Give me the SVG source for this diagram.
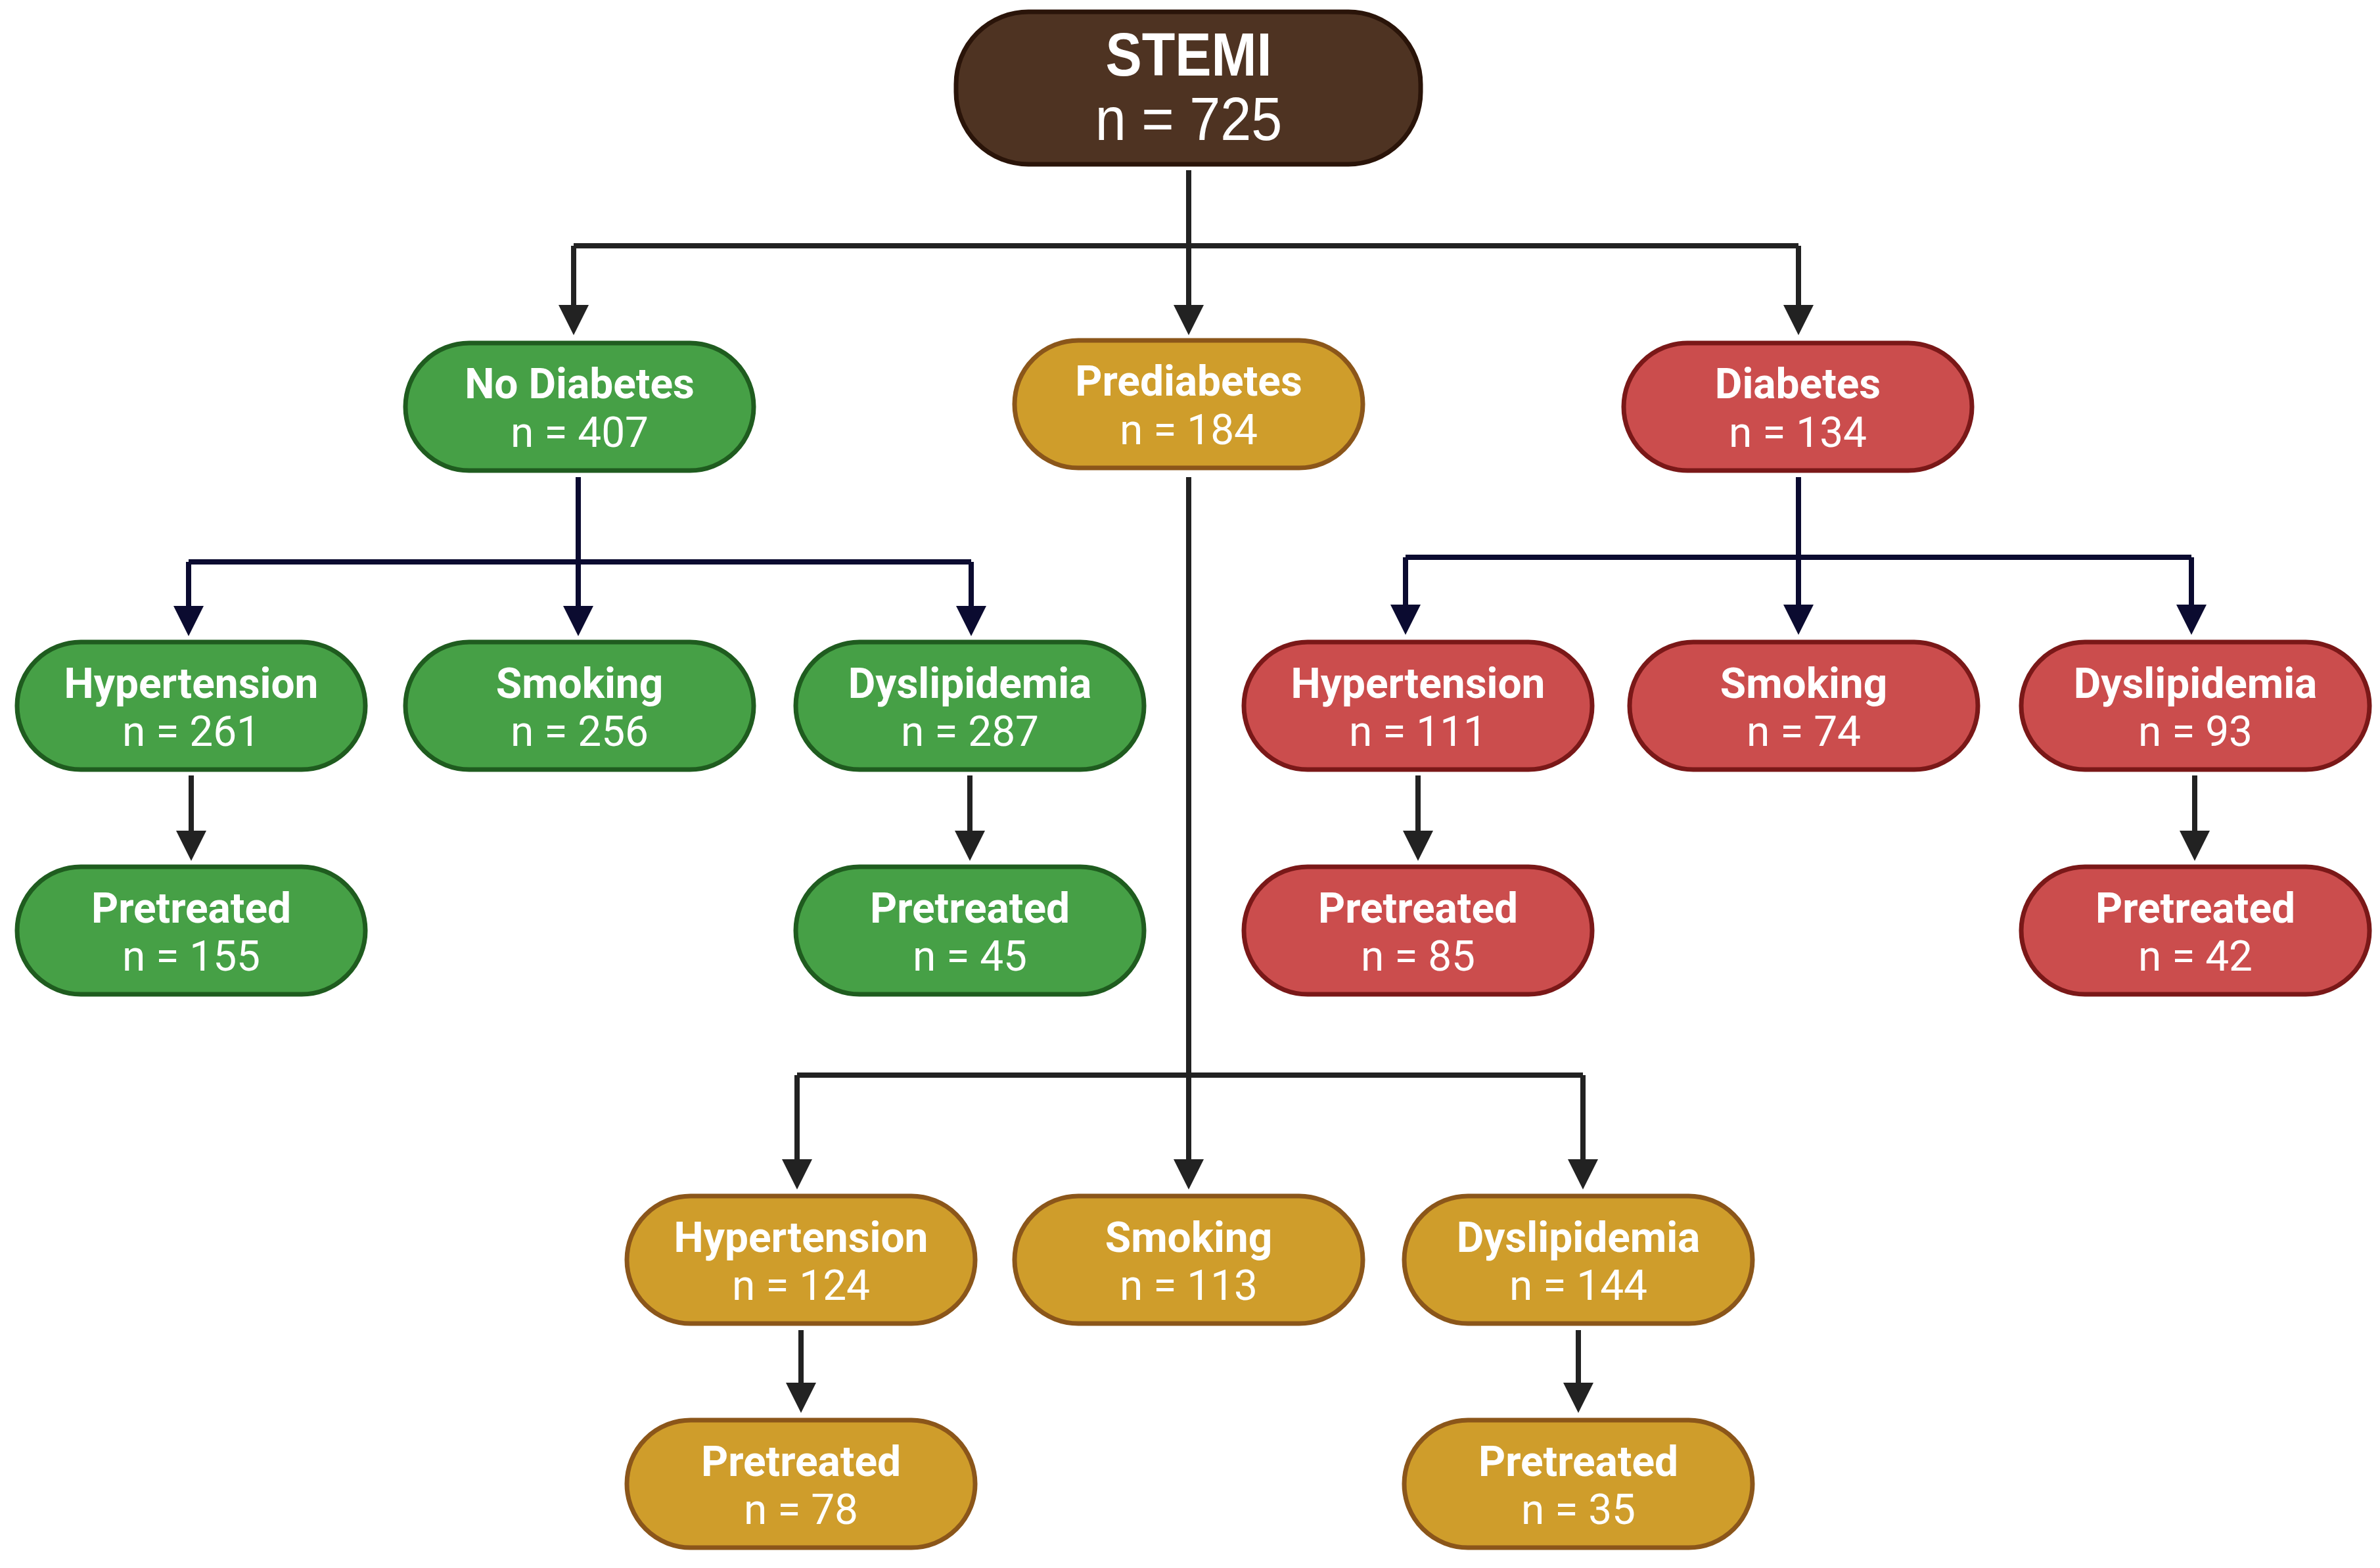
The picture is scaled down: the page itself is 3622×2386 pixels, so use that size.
<svg xmlns="http://www.w3.org/2000/svg" width="3622" height="2386" viewBox="0 0 3622 2386">
<style>
  .node rect { stroke-width: 7; }
  .g rect { fill: #46a046; stroke: #1f5c1f; }
  .y rect { fill: #cf9d2b; stroke: #8b561a; }
  .r rect { fill: #cb4d4d; stroke: #7a1818; }
  .s rect { fill: #4e3322; stroke: #2a1409; }
  .t1 { font-family: Roboto, "Liberation Sans", sans-serif; font-weight: 700; font-size: 64px; fill: #fff; text-anchor: middle; }
  .t2 { font-family: Roboto, "Liberation Sans", sans-serif; font-weight: 400; font-size: 64px; fill: #fff; text-anchor: middle; }
  .st1 { font-family: "Liberation Sans", Arial, sans-serif; font-weight: 700; font-size: 92px; fill: #fff; text-anchor: middle; }
  .st2 { font-family: "Liberation Sans", Arial, sans-serif; font-weight: 400; font-size: 92px; fill: #fff; text-anchor: middle; }
  .c { fill: none; stroke-width: 8; stroke-linecap: butt; stroke-linejoin: miter; }
  .gray { stroke: #222222; }
  .navy { stroke: #0b0b30; }
</style>
<defs>
  <marker id="ag" viewBox="0 0 46 46" refX="2" refY="23" markerWidth="46" markerHeight="46" markerUnits="userSpaceOnUse" orient="auto">
    <path d="M0,0 L46,23 L0,46 Z" fill="#222222"/>
  </marker>
  <marker id="an" viewBox="0 0 46 46" refX="2" refY="23" markerWidth="46" markerHeight="46" markerUnits="userSpaceOnUse" orient="auto">
    <path d="M0,0 L46,23 L0,46 Z" fill="#0b0b30"/>
  </marker>
</defs>
<rect width="3622" height="2386" fill="#ffffff"/>

<g id="connectors">
  <!-- STEMI split -->
  <path class="c gray" d="M1809,259 V374"/>
  <path class="c gray" d="M873,374 H2737"/>
  <path class="c gray" d="M873,374 V466" marker-end="url(#ag)"/>
  <path class="c gray" d="M1809,374 V466" marker-end="url(#ag)"/>
  <path class="c gray" d="M2737,374 V466" marker-end="url(#ag)"/>
  <!-- No Diabetes split -->
  <path class="c navy" d="M880,726 V855"/>
  <path class="c navy" d="M287,855 H1478"/>
  <path class="c navy" d="M287,855 V924" marker-end="url(#an)"/>
  <path class="c navy" d="M880,855 V924" marker-end="url(#an)"/>
  <path class="c navy" d="M1478,855 V924" marker-end="url(#an)"/>
  <!-- Diabetes split -->
  <path class="c navy" d="M2737,726 V848"/>
  <path class="c navy" d="M2139,848 H3335"/>
  <path class="c navy" d="M2139,848 V922" marker-end="url(#an)"/>
  <path class="c navy" d="M2737,848 V922" marker-end="url(#an)"/>
  <path class="c navy" d="M3335,848 V922" marker-end="url(#an)"/>
  <!-- Row 3 to Pretreated -->
  <path class="c gray" d="M291,1180 V1266" marker-end="url(#ag)"/>
  <path class="c gray" d="M1476,1180 V1266" marker-end="url(#ag)"/>
  <path class="c gray" d="M2158,1180 V1266" marker-end="url(#ag)"/>
  <path class="c gray" d="M3340,1180 V1266" marker-end="url(#ag)"/>
  <!-- Prediabetes split -->
  <path class="c gray" d="M1809,726 V1636"/>
  <path class="c gray" d="M1213,1636 H2409"/>
  <path class="c gray" d="M1213,1636 V1766" marker-end="url(#ag)"/>
  <path class="c gray" d="M1809,1636 V1766" marker-end="url(#ag)"/>
  <path class="c gray" d="M2409,1636 V1766" marker-end="url(#ag)"/>
  <!-- Yellow row to Pretreated -->
  <path class="c gray" d="M1219,2024 V2106" marker-end="url(#ag)"/>
  <path class="c gray" d="M2402,2024 V2106" marker-end="url(#ag)"/>
</g>

<g id="stemi" class="node s">
  <rect x="1455" y="18" width="707" height="232" rx="110"/>
  <text class="st1" transform="translate(1809,115) scale(0.9,1)">STEMI</text>
  <text class="st2" transform="translate(1809,213) scale(0.92,1)">n = 725</text>
</g>

<g id="no-diabetes" class="node g">
  <rect x="617" y="522" width="530" height="194" rx="97"/>
  <text class="t1" x="882" y="606">No Diabetes</text>
  <text class="t2" x="882" y="680">n = 407</text>
</g>
<g id="prediabetes" class="node y">
  <rect x="1544" y="518" width="530" height="194" rx="97"/>
  <text class="t1" x="1809" y="602">Prediabetes</text>
  <text class="t2" x="1809" y="676">n = 184</text>
</g>
<g id="diabetes" class="node r">
  <rect x="2471" y="522" width="530" height="194" rx="97"/>
  <text class="t1" x="2736" y="606">Diabetes</text>
  <text class="t2" x="2736" y="680">n = 134</text>
</g>

<g id="nd-hypertension" class="node g">
  <rect x="26" y="977" width="530" height="194" rx="97"/>
  <text class="t1" x="291" y="1062">Hypertension</text>
  <text class="t2" x="291" y="1135">n = 261</text>
</g>
<g id="nd-smoking" class="node g">
  <rect x="617" y="977" width="530" height="194" rx="97"/>
  <text class="t1" x="882" y="1062">Smoking</text>
  <text class="t2" x="882" y="1135">n = 256</text>
</g>
<g id="nd-dyslipidemia" class="node g">
  <rect x="1211" y="977" width="530" height="194" rx="97"/>
  <text class="t1" x="1476" y="1062">Dyslipidemia</text>
  <text class="t2" x="1476" y="1135">n = 287</text>
</g>
<g id="nd-ht-pretreated" class="node g">
  <rect x="26" y="1319" width="530" height="194" rx="97"/>
  <text class="t1" x="291" y="1404">Pretreated</text>
  <text class="t2" x="291" y="1477">n = 155</text>
</g>
<g id="nd-dl-pretreated" class="node g">
  <rect x="1211" y="1319" width="530" height="194" rx="97"/>
  <text class="t1" x="1476" y="1404">Pretreated</text>
  <text class="t2" x="1476" y="1477">n = 45</text>
</g>

<g id="d-hypertension" class="node r">
  <rect x="1893" y="977" width="530" height="194" rx="97"/>
  <text class="t1" x="2158" y="1062">Hypertension</text>
  <text class="t2" x="2158" y="1135">n = 111</text>
</g>
<g id="d-smoking" class="node r">
  <rect x="2480" y="977" width="530" height="194" rx="97"/>
  <text class="t1" x="2745" y="1062">Smoking</text>
  <text class="t2" x="2745" y="1135">n = 74</text>
</g>
<g id="d-dyslipidemia" class="node r">
  <rect x="3076" y="977" width="530" height="194" rx="97"/>
  <text class="t1" x="3341" y="1062">Dyslipidemia</text>
  <text class="t2" x="3341" y="1135">n = 93</text>
</g>
<g id="d-ht-pretreated" class="node r">
  <rect x="1893" y="1319" width="530" height="194" rx="97"/>
  <text class="t1" x="2158" y="1404">Pretreated</text>
  <text class="t2" x="2158" y="1477">n = 85</text>
</g>
<g id="d-dl-pretreated" class="node r">
  <rect x="3076" y="1319" width="530" height="194" rx="97"/>
  <text class="t1" x="3341" y="1404">Pretreated</text>
  <text class="t2" x="3341" y="1477">n = 42</text>
</g>

<g id="pd-hypertension" class="node y">
  <rect x="954" y="1820" width="530" height="194" rx="97"/>
  <text class="t1" x="1219" y="1905">Hypertension</text>
  <text class="t2" x="1219" y="1978">n = 124</text>
</g>
<g id="pd-smoking" class="node y">
  <rect x="1544" y="1820" width="530" height="194" rx="97"/>
  <text class="t1" x="1809" y="1905">Smoking</text>
  <text class="t2" x="1809" y="1978">n = 113</text>
</g>
<g id="pd-dyslipidemia" class="node y">
  <rect x="2137" y="1820" width="530" height="194" rx="97"/>
  <text class="t1" x="2402" y="1905">Dyslipidemia</text>
  <text class="t2" x="2402" y="1978">n = 144</text>
</g>
<g id="pd-ht-pretreated" class="node y">
  <rect x="954" y="2161" width="530" height="194" rx="97"/>
  <text class="t1" x="1219" y="2246">Pretreated</text>
  <text class="t2" x="1219" y="2319">n = 78</text>
</g>
<g id="pd-dl-pretreated" class="node y">
  <rect x="2137" y="2161" width="530" height="194" rx="97"/>
  <text class="t1" x="2402" y="2246">Pretreated</text>
  <text class="t2" x="2402" y="2319">n = 35</text>
</g>
</svg>
